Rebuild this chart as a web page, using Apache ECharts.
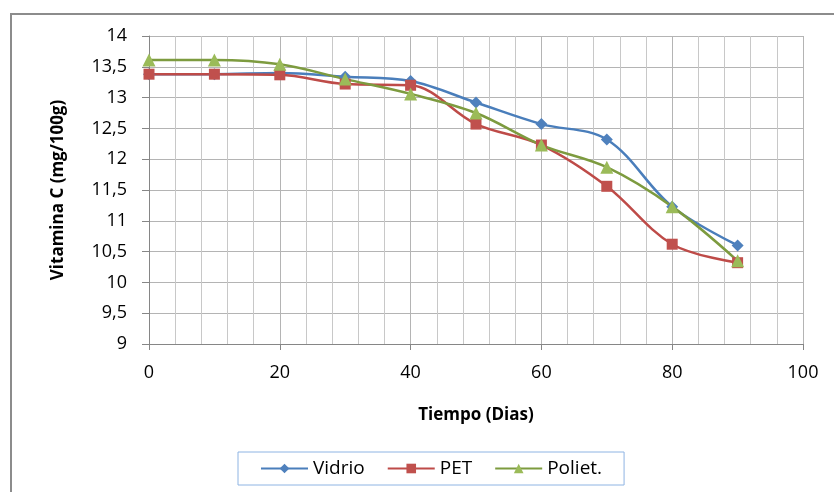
<!DOCTYPE html>
<html>
<head>
<meta charset="utf-8">
<script src="https://cdn.jsdelivr.net/npm/echarts@6/dist/echarts.min.js"></script>
<style>
	html, body {margin: 0; padding: 0; background: #fff;}
	#chart {width: 834px; height: 492px;}
</style>
</head>
<body>
<div id="chart"></div>
<script>
// días de almacenamiento
const dias = [0, 10, 20, 30, 40, 50, 60, 70, 80, 90];
const vidrio = [13.38, 13.38, 13.40, 13.34, 13.27, 12.92, 12.57, 12.32, 11.23, 10.60];
const pet = [13.38, 13.38, 13.37, 13.22, 13.20, 12.57, 12.23, 11.56, 10.62, 10.32];
const poliet = [13.61, 13.61, 13.54, 13.30, 13.06, 12.75, 12.23, 11.87, 11.23, 10.35];

const font = '"Open Sans", Lato, sans-serif';
const pairs = arr => dias.map((d, i) => [d, arr[i]]);

const myChart = echarts.init(document.getElementById('chart'));
myChart.setOption({
	animation: false,
	textStyle: {fontFamily: font},
	grid: {left: 149, right: 31, top: 36, bottom: 148},
	graphic: [
		{type: 'polyline', shape: {points: [[11, 492], [11, 14], [834, 14]]},
			style: {stroke: '#8c8c8c', lineWidth: 2, fill: null}}
	],
	legend: {
		data: ['Vidrio', 'PET', 'Poliet.'],
		left: 238, top: 452,
		padding: [7, 22, 7, 22],
		borderColor: '#8eb4e3', borderWidth: 1,
		itemWidth: 47, itemHeight: 12, itemGap: 22,
		textStyle: {fontSize: 19, color: '#000', fontFamily: font}
	},
	xAxis: {
		type: 'value', min: 0, max: 100, interval: 20,
		name: 'Tiempo (Dias)', nameLocation: 'middle', nameGap: 63,
		nameTextStyle: {fontSize: 17, fontWeight: 'bold', color: '#000', fontFamily: font},
		axisLine: {lineStyle: {color: '#868686', width: 1}},
		axisTick: {show: true, length: 6, lineStyle: {color: '#868686'}},
		axisLabel: {fontSize: 18, color: '#000', margin: 20},
		splitLine: {show: true, lineStyle: {color: '#b4b4b4'}},
		minorTick: {show: false, splitNumber: 5},
		minorSplitLine: {show: true, lineStyle: {color: '#c8c8c8'}}
	},
	yAxis: {
		type: 'value', min: 9, max: 14, interval: 0.5,
		name: 'Vitamina C (mg/100g)', nameLocation: 'middle', nameGap: 82,
		nameTextStyle: {fontSize: 17, fontWeight: 'bold', color: '#000', fontFamily: font},
		axisLine: {show: true, lineStyle: {color: '#868686'}},
		axisTick: {show: true, inside: false, length: 7, lineStyle: {color: '#868686'}},
		axisLabel: {fontSize: 18, color: '#000', margin: 22,
			formatter: v => String(v).replace('.', ',')},
		splitLine: {show: true, lineStyle: {color: '#b4b4b4'}}
	},
	series: [
		{name: 'Vidrio', data: pairs(vidrio), symbol: 'diamond', symbolSize: 12,
			itemStyle: {color: '#4f81bd'}, lineStyle: {color: '#4a7ebb', width: 2.5}},
		{name: 'PET', data: pairs(pet), symbol: 'rect', symbolSize: 11,
			itemStyle: {color: '#c0504d'}, lineStyle: {color: '#be4b48', width: 2.5}},
		{name: 'Poliet.', data: pairs(poliet), symbol: 'triangle', symbolSize: 13,
			itemStyle: {color: '#9bbb59'}, lineStyle: {color: '#7d9b3f', width: 2.5}}
	].map(s => ({...s, type: 'line', smooth: 0.35, showSymbol: true}))
});
</script>
</body>
</html>
